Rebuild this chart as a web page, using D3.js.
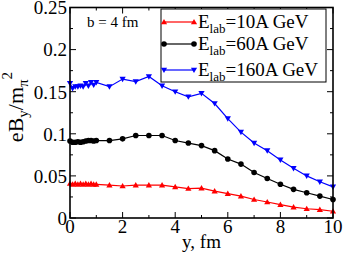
<!DOCTYPE html>
<html><head><meta charset="utf-8">
<script src="https://cdn.jsdelivr.net/npm/d3@7"></script>
<style>body{margin:0;background:#fff}svg{display:block}text{font-family:"Liberation Serif","Times New Roman",serif;fill:#000}</style>
</head><body><svg id="c" width="343" height="256"></svg>
<script>
const xVals = [0,0.1,0.2,0.3,0.4,0.5,0.6,0.7,0.8,0.9,1.0,1.5,2,2.5,3,3.5,4,4.5,5,5.5,6,6.5,7,7.5,8,8.5,9,9.5,10];
const e10 = [0.041,0.040,0.041,0.040,0.041,0.040,0.041,0.040,0.041,0.040,0.040,0.039,0.038,0.039,0.039,0.039,0.037,0.035,0.0355,0.032,0.029,0.026,0.022,0.019,0.0158,0.013,0.011,0.010,0.008];
const e60 = [0.0915,0.090,0.090,0.0905,0.090,0.0905,0.0915,0.092,0.092,0.0915,0.092,0.092,0.094,0.098,0.098,0.098,0.092,0.089,0.086,0.080,0.070,0.064,0.054,0.047,0.040,0.034,0.030,0.026,0.022];
const e160 = [0.160,0.154,0.156,0.156,0.157,0.156,0.160,0.157,0.161,0.158,0.161,0.156,0.165,0.162,0.168,0.157,0.150,0.144,0.148,0.136,0.118,0.102,0.089,0.080,0.069,0.059,0.050,0.043,0.037];
const seriesNames = ["10A GeV","60A GeV","160A GeV"];
const seriesColors = ["#ff0000","#000000","#0000ff"];
const seriesMarkers = ["triUp","circle","triDown"];
const xTicks = [0,2,4,6,8,10];
const yTicks = [0,0.05,0.1,0.15,0.2,0.25];
const yTickLabels = ["0","0.05","0.1","0.15","0.2","0.25"];

const svg = d3.select("#c");
const L=70, R=333, T=7.5, B=218;
const x = d3.scaleLinear().domain([0,10]).range([L,R]);
const y = d3.scaleLinear().domain([0,0.25]).range([B,T]);

const g = svg.append("g");
const minX = [1,3,5,7,9];
const minY = [0.025,0.075,0.125,0.175,0.225];
function tk(x1,y1,x2,y2){g.append("line").attr("x1",x1).attr("y1",y1).attr("x2",x2).attr("y2",y2).attr("stroke","#000").attr("stroke-width",1);}
xTicks.forEach(v=>{tk(x(v),B,x(v),B-6);tk(x(v),T,x(v),T+6);});
minX.forEach(v=>{tk(x(v),B,x(v),B-3);tk(x(v),T,x(v),T+3);});
yTicks.forEach(v=>{tk(L,y(v),L+6,y(v));tk(R,y(v),R-6,y(v));});
minY.forEach(v=>{tk(L,y(v),L+3,y(v));tk(R,y(v),R-3,y(v));});

xTicks.forEach(v=>svg.append("text").attr("x",x(v)).attr("y",233).attr("text-anchor","middle").attr("font-size",19).text(v));
yTicks.forEach((v,i)=>svg.append("text").attr("x",67).attr("y",y(v)+6.8).attr("text-anchor","end").attr("font-size",19).text(yTickLabels[i]));

svg.append("text").attr("x",x(5)).attr("y",248).attr("text-anchor","middle").attr("font-size",19).text("y, fm");
const yl = svg.append("text").attr("transform","translate(23,107) rotate(-90)").attr("text-anchor","middle").attr("font-size",22);
yl.append("tspan").text("eB");
yl.append("tspan").attr("font-size",15).attr("dy",5).text("y");
yl.append("tspan").attr("dy",-5).text("/m");
yl.append("tspan").attr("font-size",15).attr("dy",5).text("π");
yl.append("tspan").attr("font-size",15).attr("dy",-16).text("2");

const data = [e10,e60,e160];
function marker(sel,type,color){
  if(type==="circle") sel.append("circle").attr("r",2.8).attr("fill",color);
  else {
    const s=3.1;
    const p = type==="triUp" ? `M0,${-s}L${s},${s*0.75}L${-s},${s*0.75}Z` : `M0,${s}L${s},${-s*0.75}L${-s},${-s*0.75}Z`;
    sel.append("path").attr("d",p).attr("fill",color);
  }
}
data.forEach((vals,i)=>{
  const pts = xVals.map((xv,j)=>[xv,vals[j]]);
  svg.append("path").attr("d",d3.line().x(d=>x(d[0])).y(d=>y(d[1]))(pts)).attr("fill","none").attr("stroke",seriesColors[i]).attr("stroke-width",1.2);
  pts.forEach(d=>{const m=svg.append("g").attr("transform",`translate(${x(d[0])},${y(d[1])})`);marker(m,seriesMarkers[i],seriesColors[i]);});
});

svg.append("rect").attr("x",L).attr("y",T).attr("width",R-L).attr("height",B-T).attr("fill","none").attr("stroke","#000").attr("stroke-width",1.6);

svg.append("text").attr("x",87).attr("y",27).attr("font-size",15).text("b = 4 fm");

svg.append("rect").attr("x",161).attr("y",9).attr("width",165).attr("height",73).attr("fill","#fff").attr("stroke","#000").attr("stroke-width",1);
const rowsY=[22,44,70];
seriesNames.forEach((n,i)=>{
  const ly=rowsY[i];
  svg.append("line").attr("x1",164).attr("x2",194).attr("y1",ly).attr("y2",ly).attr("stroke",seriesColors[i]).attr("stroke-width",1.2);
  [164,194].forEach(px=>{const m=svg.append("g").attr("transform",`translate(${px},${ly})`);marker(m,seriesMarkers[i],seriesColors[i]);});
  const t=svg.append("text").attr("x",198).attr("y",ly+5.5).attr("font-size",19);
  t.append("tspan").text("E");
  t.append("tspan").attr("font-size",13).attr("dy",5).text("lab");
  t.append("tspan").attr("dy",-5).text("="+n);
});
</script></body></html>
